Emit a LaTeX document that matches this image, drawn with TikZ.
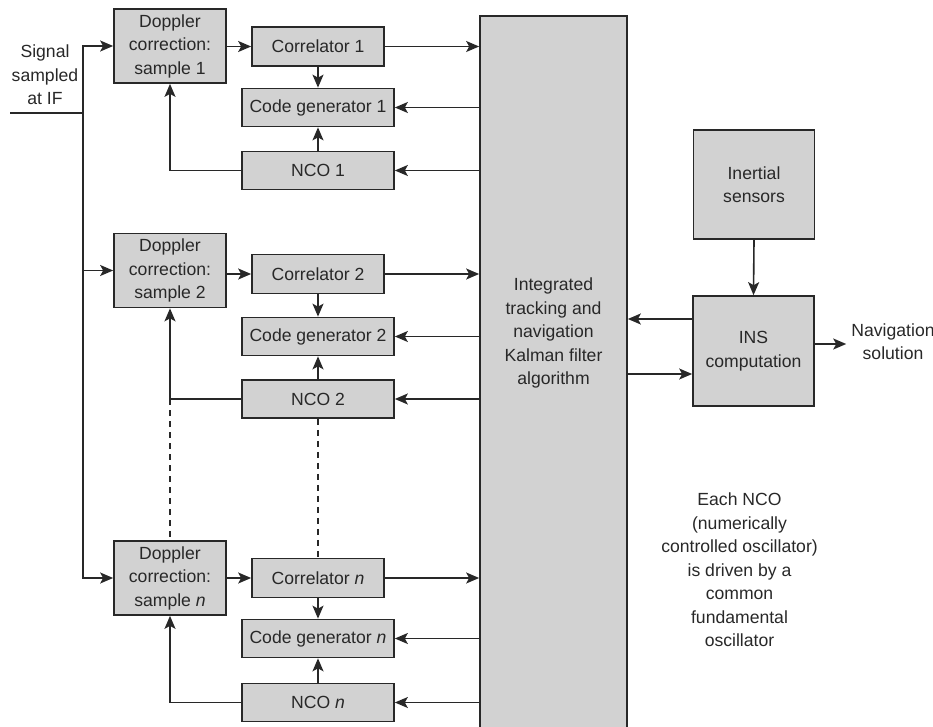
\documentclass[tikz,border=0pt]{standalone}
\usepackage{fontspec}
\setmainfont{Liberation Sans}
\usetikzlibrary{arrows.meta}
\definecolor{boxfill}{RGB}{210,210,210}
\definecolor{ink}{RGB}{40,40,40}
\begin{document}
\begin{tikzpicture}[x=1pt,y=-1pt,
  every node/.style={font=\fontsize{17.6}{23.5}\selectfont, text=ink},
  blk/.style={draw=ink, line width=1.7pt, fill=boxfill, inner sep=0pt, align=center},
  dopbox/.style={blk, minimum width=112pt, minimum height=74pt},
  corbox/.style={blk, minimum width=132pt, minimum height=39pt},
  genbox/.style={blk, minimum width=152pt, minimum height=38pt},
  insbox/.style={blk, minimum width=121pt, minimum height=109pt},
  link/.style={draw=ink, line width=1.6pt},
  flow/.style={link, -{Stealth[length=13pt,width=11pt,inset=3pt]}},
  dashlink/.style={link, dash pattern=on 6pt off 5pt},
  plain/.style={align=center, inner sep=5pt}]
\useasboundingbox (0,0) rectangle (933,726);

% integrated tracking / navigation filter (runs off the lower edge)
\node[blk, minimum width=147pt, minimum height=735pt, anchor=north] (kf) at (553.5,15) {};
\node[plain] (kftext) at (553.5,333) {Integrated\\tracking and\\navigation\\Kalman filter\\algorithm};

% channel 1
\node[dopbox] (dop1) at (170,46) {Doppler\\correction:\\sample 1};
\node[corbox] (cor1) at (318,46.5) {Correlator 1};
\node[genbox] (cg1) at (318,107.5) {Code generator 1};
\node[genbox] (nco1) at (318,170.5) {NCO 1};

% channel 2
\node[dopbox] (dop2) at (170,270.5) {Doppler\\correction:\\sample 2};
\node[corbox] (cor2) at (318,274) {Correlator 2};
\node[genbox] (cg2) at (318,336.5) {Code generator 2};
\node[genbox] (nco2) at (318,399) {NCO 2};

% channel n
\node[dopbox] (dopn) at (170,578) {Doppler\\correction:\\sample \textit{n}};
\node[corbox] (corn) at (318,578) {Correlator \textit{n}};
\node[genbox] (cgn) at (318,638.5) {Code generator \textit{n}};
\node[genbox] (ncon) at (318,702.5) {NCO \textit{n}};

% inertial part
\node[insbox] (imu) at (754,184.5) {Inertial\\sensors};
\node[insbox, minimum height=110pt] (ins) at (753.5,351) {INS\\computation};
\node[plain] (nav) at (893,341.5) {Navigation\\solution};

% labels
\node[plain] (sig) at (45,75) {Signal\\sampled\\at IF};
\node[plain] (note) at (739.5,570) {Each NCO\\(numerically\\controlled oscillator)\\is driven by a\\common\\fundamental\\oscillator};

% input signal distribution
\coordinate (sigin) at (10,113);
\coordinate (tap) at (83,113);
\draw[link] (sigin) -- (tap);
\draw[flow] (tap) |- (dop1.west);
\draw[flow] (tap) |- (dopn.west);
\draw[flow] (tap |- dop2) -- (dop2.west);

% channel connections
\foreach \d/\c/\g/\o in {dop1/cor1/cg1/nco1, dop2/cor2/cg2/nco2, dopn/corn/cgn/ncon} {
  \draw[flow] (\d.east |- \c) -- (\c.west);
  \draw[flow] (\c.south) -- (\g.north);
  \draw[flow] (\o.north) -- (\g.south);
  \draw[flow] (\o.west) -| (\d.south);
  \draw[flow] (\c.east) -- (\c.east -| kf.west);
  \draw[flow] (kf.west |- \g) -- (\g.east);
  \draw[flow] (kf.west |- \o) -- (\o.east);
}

% continuation between channel 2 and channel n
\draw[dashlink] (dop2.south |- nco2) -- (dopn.north);
\draw[dashlink] (nco2.south) -- (corn.north);

% filter <-> INS
\coordinate (insA) at ([yshift=32pt]ins.west);
\coordinate (insB) at ([yshift=-23pt]ins.west);
\coordinate (insO) at ([yshift=7pt]ins.east);
\draw[flow] (insA) -- (insA -| kf.east);
\draw[flow] (insB -| kf.east) -- (insB);
\draw[flow] (imu.south) -- (ins.north);
\draw[flow] (insO) -- (insO -| nav.west);
\end{tikzpicture}
\end{document}
